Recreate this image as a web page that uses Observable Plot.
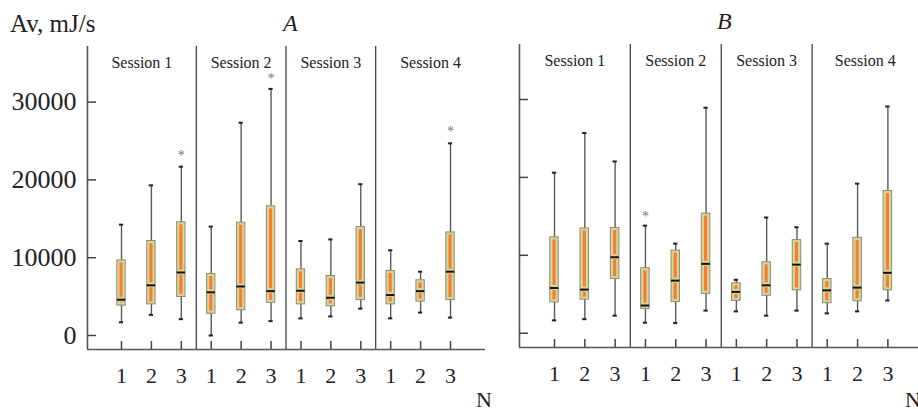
<!DOCTYPE html>
<html><head><meta charset="utf-8">
<script src="https://cdn.jsdelivr.net/npm/d3@7"></script>
<script src="https://cdn.jsdelivr.net/npm/@observablehq/plot@0.6"></script>
<style>
body{margin:0;background:#fff;}
#wrap{position:relative;width:918px;height:409px;overflow:hidden;font-family:"Liberation Serif","Times New Roman",serif;color:#222;}
.lbl{position:absolute;white-space:nowrap;line-height:1;}
.plt{position:absolute;top:0;}
</style></head><body>
<div id="wrap">
  <div class="lbl" style="left:10px;top:11px;font-size:25px">Av, mJ/s</div>
  <div class="lbl" style="left:283px;top:11px;font-size:24px;font-style:italic">A</div>
  <div class="lbl" style="left:717px;top:9px;font-size:24px;font-style:italic">B</div>
  <div class="lbl" style="left:476px;top:389px;font-size:22px">N</div>
  <div class="lbl" style="left:905px;top:389px;font-size:22px">N</div>
</div>
<script>
// ---- data ----
const sessions = ["Session 1", "Session 2", "Session 3", "Session 4"];
const nLabels = ["1", "2", "3"];
const yTicks = [0, 10000, 20000, 30000];

// Panel A (per box, session 1..4 x N 1..3)
const aLow = [1700, 2650, 2100, 0, 1650, 1850, 2200, 2450, 3450, 2200, 2950, 2300];
const aQ1  = [3850, 4000, 4950, 2800, 3250, 4200, 4000, 3750, 4550, 4000, 4350, 4550];
const aMed = [4600, 6450, 8100, 5550, 6300, 5700, 5750, 4850, 6800, 5200, 5700, 8200];
const aQ3  = [9650, 12150, 14550, 7900, 14500, 16600, 8500, 7650, 13950, 8300, 7100, 13250];
const aHigh = [14250, 19300, 21700, 14000, 27350, 31700, 12150, 12350, 19450, 10950, 8200, 24700];
const aOutBox = [2, 5, 11];
const aOutVal = [23500, 33400, 26650];

// Panel B
const bLow = [1650, 1800, 2250, 1350, 1300, 2900, 2800, 2250, 2900, 2550, 2800, 4200];
const bQ1  = [3950, 4300, 6950, 3100, 4000, 5050, 4150, 4800, 5500, 3850, 4100, 5500];
const bMed = [5800, 5600, 9750, 3550, 6750, 8900, 5300, 6150, 8800, 5500, 5850, 7750];
const bQ3  = [12300, 13450, 13500, 8350, 10600, 15350, 6400, 9100, 11950, 6950, 12250, 18250];
const bHigh = [20600, 25700, 22050, 13800, 11500, 28950, 6850, 14850, 13600, 11500, 19200, 29100];
const bOutBox = [3];
const bOutVal = [15350];

const SERIF = "'Liberation Serif', 'Times New Roman', serif";

function rows(lo, q1, med, q3, hi) {
  return lo.map((_, i) => ({k: i, lo: lo[i], q1: q1[i], med: med[i], q3: q3[i], hi: hi[i]}));
}
function outs(bx, v) { return bx.map((k, i) => ({k, v: v[i]})); }

function panel({data, outliers, xDomain, yDomain, width, marginLeft, marginRight, marginTop, marginBottom, showYLabels}) {
  const [x0, x1] = xDomain, [y0] = yDomain;
  const hw = 0.14, iw = 0.052, cw = 0.07;
  const mids = [(x0 + 2.5) / 2, 4, 7, (8.5 + x1) / 2];
  return Plot.plot({
    width, height: 409, marginLeft, marginRight, marginTop, marginBottom,
    style: {background: "transparent", overflow: "visible", fontFamily: SERIF, color: "#222"},
    x: {domain: xDomain, label: null},
    y: {domain: yDomain, label: null},
    marks: [
      Plot.ruleX([2.5, 5.5, 8.5], {stroke: "#222", strokeWidth: 1.1}),
      Plot.ruleX([x0], {stroke: "#555", strokeWidth: 1.6}),
      Plot.ruleY([y0], {stroke: "#555", strokeWidth: 1.6}),
      Plot.axisY({ticks: yTicks, tickSize: -9, tickPadding: 20, fontSize: 26, fontFamily: SERIF, label: null,
        tickFormat: showYLabels ? (d => String(d)) : (() => ""), stroke: "#444", strokeWidth: 1.5}),
      Plot.axisX({ticks: d3.range(12), tickSize: -8, tickPadding: 26, fontSize: 22, fontFamily: SERIF, label: null,
        tickFormat: k => nLabels[k % 3], stroke: "#444", strokeWidth: 1.5}),
      Plot.text(sessions, {x: (d, i) => mids[i], frameAnchor: "top", lineAnchor: "top", dy: 10, fontSize: 16,
        fontFamily: SERIF, text: d => d, fill: "#222"}),
      Plot.ruleX(data, {x: "k", y1: "lo", y2: "hi", stroke: "#5a5a5a", strokeWidth: 1.4}),
      Plot.ruleY(data, {y: "lo", x1: d => d.k - cw, x2: d => d.k + cw, stroke: "#222", strokeWidth: 2}),
      Plot.ruleY(data, {y: "hi", x1: d => d.k - cw, x2: d => d.k + cw, stroke: "#222", strokeWidth: 2}),
      Plot.rect(data, {x1: d => d.k - hw, x2: d => d.k + hw, y1: "q1", y2: "q3", fill: "#d9d49d", stroke: "#8e8c70", strokeWidth: 1}),
      Plot.rect(data, {x1: d => d.k - iw, x2: d => d.k + iw, y1: "q1", y2: "med", fill: "#f4812a", insetTop: 2.5, insetBottom: 2.5}),
      Plot.rect(data, {x1: d => d.k - iw, x2: d => d.k + iw, y1: "med", y2: "q3", fill: "#f4812a", insetTop: 2.5, insetBottom: 2.5}),
      Plot.ruleY(data, {y: "med", x1: d => d.k - hw, x2: d => d.k + hw, stroke: "#111", strokeWidth: 2}),
      Plot.text(outliers, {x: "k", y: "v", text: () => "*", fontSize: 14, fontFamily: SERIF, fill: "#777", dy: 3})
    ]
  });
}

const wrap = document.getElementById("wrap");
const pA = panel({
  data: rows(aLow, aQ1, aMed, aQ3, aHigh), outliers: outs(aOutBox, aOutVal),
  xDomain: [-1.137, 12.17], yDomain: [-1800, 37150],
  width: 490, marginLeft: 87, marginRight: 5, marginTop: 46, marginBottom: 60, showYLabels: true
});
pA.classList.add("plt"); pA.style.left = "0px";
wrap.appendChild(pA);

const pB = panel({
  data: rows(bLow, bQ1, bMed, bQ3, bHigh), outliers: outs(bOutBox, bOutVal),
  xDomain: [-1.155, 12.01], yDomain: [-1836, 37060],
  width: 458, marginLeft: 59, marginRight: 0, marginTop: 44, marginBottom: 62, showYLabels: false
});
pB.classList.add("plt"); pB.style.left = "460px";
wrap.appendChild(pB);
</script>
</body></html>
